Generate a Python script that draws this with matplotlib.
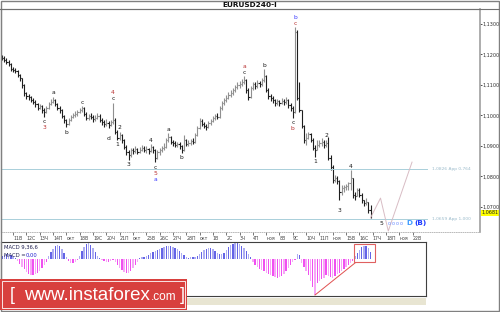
import numpy as np
import matplotlib
matplotlib.use('Agg')
import matplotlib.pyplot as plt
from matplotlib.patches import Rectangle
from matplotlib.lines import Line2D

W, H = 500, 312

# ----------------------------------------------------------------------
# Data : EURUSD 4H bars, prices in pips (1e-4)
first_open = 11195
closes = [11188, 11182, 11175, 11169, 11152, 11149, 11146, 11133, 11123, 11100,
          11074, 11064, 11061, 11051, 11044, 11038, 11024, 11031, 11018, 11011,
          11024, 11038, 11044, 11051, 11038, 11024, 11018, 10998, 10985, 10972,
          10985, 10995, 11001, 11005, 11011, 11018, 11024, 11005, 10992, 10998,
          10995, 10988, 10992, 10998, 10985, 10979, 10972, 10975, 10969, 10979,
          10985, 10946, 10926, 10936, 10920, 10897, 10880, 10870, 10887, 10883,
          10890, 10880, 10887, 10893, 10887, 10890, 10883, 10897, 10887, 10861,
          10880, 10887, 10893, 10897, 10920, 10929, 10913, 10910, 10903, 10906,
          10900, 10887, 10920, 10906, 10910, 10916, 10913, 10936, 10959, 10982,
          10972, 10966, 10962, 10975, 10982, 10992, 10998, 10995, 11024, 11041,
          11051, 11057, 11067, 11074, 11084, 11093, 11100, 11103, 11110, 11116,
          11084, 11061, 11090, 11103, 11097, 11106, 11103, 11116, 11129, 11084,
          11064, 11057, 11051, 11041, 11047, 11041, 11047, 11044, 11051, 11034,
          11024, 11011, 11274, 11057, 11018, 10966, 10920, 10926, 10939, 10920,
          10893, 10887, 10903, 10910, 10913, 10903, 10910, 10861, 10831, 10788,
          10795, 10785, 10749, 10762, 10765, 10769, 10778, 10795, 10739, 10736,
          10756, 10739, 10723, 10713, 10716, 10690, 10681]
highs = [11198, 11195, 11188, 11182, 11172, 11159, 11156, 11149, 11136, 11123,
         11103, 11077, 11070, 11064, 11057, 11051, 11041, 11038, 11034, 11024,
         11031, 11044, 11054, 11061, 11054, 11041, 11031, 11021, 11001, 10988,
         10992, 11001, 11008, 11015, 11018, 11024, 11031, 11028, 11011, 11005,
         11008, 11001, 11001, 11008, 11005, 10992, 10985, 10988, 10982, 10985,
         11041, 10992, 10952, 10946, 10939, 10923, 10903, 10887, 10893, 10893,
         10900, 10893, 10897, 10903, 10900, 10900, 10893, 10906, 10900, 10890,
         10887, 10893, 10900, 10910, 10926, 10942, 10933, 10920, 10916, 10913,
         10913, 10903, 10936, 10923, 10920, 10923, 10926, 10942, 10966, 10992,
         10988, 10979, 10972, 10982, 10988, 10998, 11005, 11008, 11031, 11047,
         11057, 11067, 11077, 11084, 11090, 11100, 11110, 11113, 11120, 11129,
         11120, 11090, 11097, 11110, 11110, 11116, 11113, 11123, 11152, 11133,
         11090, 11070, 11064, 11054, 11054, 11051, 11057, 11054, 11061, 11054,
         11041, 11031, 11290, 11280, 11110, 11018, 10969, 10942, 10946, 10942,
         10926, 10903, 10920, 10920, 10926, 10920, 10920, 10929, 10870, 10838,
         10805, 10801, 10788, 10772, 10772, 10775, 10782, 10821, 10795, 10749,
         10762, 10762, 10746, 10723, 10729, 10716, 10706]
lows = [11182, 11175, 11169, 11162, 11146, 11143, 11139, 11126, 11113, 11090,
        11064, 11054, 11051, 11044, 11038, 11028, 11018, 11021, 11008, 10995,
        11008, 11021, 11034, 11041, 11031, 11018, 11008, 10992, 10975, 10962,
        10969, 10982, 10992, 10995, 10998, 11008, 11011, 10998, 10985, 10985,
        10988, 10979, 10982, 10988, 10979, 10969, 10962, 10966, 10959, 10966,
        10972, 10939, 10920, 10920, 10910, 10890, 10870, 10854, 10864, 10874,
        10877, 10874, 10877, 10883, 10880, 10877, 10874, 10880, 10877, 10847,
        10857, 10870, 10880, 10887, 10893, 10913, 10906, 10900, 10897, 10897,
        10890, 10877, 10883, 10900, 10900, 10903, 10906, 10910, 10933, 10956,
        10966, 10959, 10952, 10959, 10969, 10979, 10985, 10988, 10992, 11018,
        11034, 11044, 11054, 11061, 11067, 11077, 11087, 11090, 11097, 11103,
        11074, 11051, 11057, 11084, 11087, 11090, 11093, 11097, 11110, 11077,
        11054, 11047, 11041, 11031, 11034, 11031, 11038, 11034, 11038, 11024,
        11015, 10992, 11008, 11051, 11011, 10959, 10910, 10903, 10923, 10913,
        10887, 10864, 10887, 10897, 10900, 10893, 10897, 10854, 10821, 10778,
        10782, 10775, 10723, 10739, 10749, 10756, 10756, 10756, 10729, 10723,
        10736, 10733, 10713, 10703, 10706, 10680, 10664]

# MACD(9,36,6) histogram, 1e-4 units
macd_hist = [3, 4, 5, 5, 4, 3, 1,
             -2, -5, -8, -10, -13, -15, -16, -16, -15, -14, -12, -9, -6, -3,
             3, 7, 10, 13, 14, 13, 10, 6, 2,
             -2, -4, -4, -3, -1,
             3, 8, 12, 15, 16, 14, 11, 7, 3,
             1, -1, -2, -3, -3, -2, -1,
             -3, -6, -9, -11, -13, -14, -14, -12, -9, -6, -3,
             1, 2, 2, 3,
             4, 6, 7, 8, 9, 10, 11, 12, 13, 13, 13, 12, 11, 10, 8, 6, 4, 2,
             1, 2, 2, 2, 3,
             5, 7, 9, 10, 11, 11, 10, 8, 6, 5, 5,
             6, 9, 12, 14, 15, 16, 16, 15, 13, 11, 8, 5, 2,
             -3, -6, -8, -10, -11, -12, -14, -15, -16, -17, -18, -19, -18, -17,
             -15, -12, -9, -6, -3, -1,
             5, 4,
             -4, -8, -12, -16, -22, -28, -36, -24, -22, -20, -19, -16, -17, -18,
             -19, -17, -15, -14, -12, -10, -8, -6, -4, -2,
             3, 6, 9, 12, 13, 13, 11, 7]

day_labels = ['11В', '12С', '13Ч', '14П', 'окт', '18В', '19С', '20Ч', '21П', 'окт',
              '25В', '26С', '27Ч', '28П', 'окт', '1В', '2С', '3Ч', '4П', 'ноя',
              '8В', '9С', '10Ч', '11П', 'ноя', '15В', '16С', '17Ч', '18П', 'ноя', '22В']
bars_per_day = 6
first_day_bar = 5

levels = [1.0826, 1.0659]
level_tags = ['1,0826 App 0,764', '1,0659 App 1,000']

forecast_bar = [166, 170.5, 174, 184.7]
forecast_px = [1.0664, 1.0729, 1.0621, 1.0847]

# trend line on the MACD histogram (bar indices)
macd_trend = [141, 159]
macd_trend_end = -4

K, R, B = '#1a1a1a', '#b83030', '#3a3aff'
# (bar, side, [(text, colour), ...]) stacked away from the bar
waves = [(19, 'below', [('c', K), ('3', R)]),
         (23, 'above', [('a', K)]),
         (29, 'below', [('b', K)]),
         (36, 'above', [('c', K)]),
         (50, 'above', [('c', K), ('4', R)]),
         (48, 'below', [('', K), ('d', K)]),
         (52, 'below', [('1', K)]),
         (53, 'above', [('2', K)]),
         (57, 'below', [('3', K)]),
         (67, 'above', [('4', K)]),
         (69, 'below', [('c', K), ('5', R), ('a', B)]),
         (75, 'above', [('a', K)]),
         (81, 'below', [('b', K)]),
         (109, 'above', [('c', K), ('a', R)]),
         (118, 'above', [('b', K)]),
         (131, 'below', [('c', K), ('b', R)]),
         (132, 'above', [('c', R), ('b', B)]),
         (141, 'below', [('1', K)]),
         (146, 'above', [('2', K)]),
         (152, 'below', [('', K), ('3', K)]),
         (157, 'above', [('4', K)])]

# labels of the projected count, under the lower level
proj_bar = [170.7, 174.6, 176.4, 178.2, 180.0, 183.3, 188.6]
proj_txt = ['5', 'o', 'o', 'o', 'o', 'D', '(B)']

# ----------------------------------------------------------------------
def fx(x):
    return x / W

def fy(y):
    return 1 - y / H

PX_BAR = 2.22   # pixels per bar

cl = np.array(closes) / 1e4
hi = np.array(highs) / 1e4
lo = np.array(lows) / 1e4
op = np.r_[first_open / 1e4, cl[:-1]]
hi = np.maximum(hi, np.maximum(op, cl))
lo = np.minimum(lo, np.minimum(op, cl))
n = len(cl)
idx = np.arange(n)

fig = plt.figure(figsize=(W / 100, H / 100), dpi=100)
fig.patch.set_facecolor('white')

# ---------------------------------------------------------------- main
ax = fig.add_axes([fx(1), fy(232), 479 / W, 223 / H])
ax.set_xlim(-0.45, -0.45 + 479 / PX_BAR)
ax.set_ylim(1.061776, 1.13492)

cols = np.where(cl >= op, '#909090', '#1e1e1e')
ax.vlines(idx, lo, hi, colors=cols, lw=0.8)
ax.hlines(op, idx - 0.5, idx, colors=cols, lw=0.8)
ax.hlines(cl, idx, idx + 0.5, colors=cols, lw=0.8)

# fibo levels
for lv, tag in zip(levels, level_tags):
    ax.plot([-0.45, 191.5], [lv, lv], color='#a9cfda', lw=0.7)
    ax.text(193.5, lv, tag, fontsize=3.2, color='#9cbccc', va='center', ha='left')

# projection
ax.plot(forecast_bar, forecast_px, color='#d8bcc4', lw=0.7)

# wave labels
for b, side, stack in waves:
    for s, (t, c) in enumerate(stack):
        if not t:
            continue
        if side == 'above':
            ax.annotate(t, (b, hi[b]), xytext=(0, 4 + 6 * s), textcoords='offset pixels',
                        ha='center', va='center', fontsize=4.3, color=c)
        else:
            ax.annotate(t, (b, lo[b]), xytext=(0, -5 - 6 * s), textcoords='offset pixels',
                        ha='center', va='center', fontsize=4.3, color=c)

for b, t in zip(proj_bar, proj_txt):
    if t == 'o':
        ax.annotate(t, (b, levels[1]), xytext=(0, -4), textcoords='offset pixels',
                    ha='center', va='center', fontsize=3.6, color='#6f8fff')
    elif t == '5':
        ax.annotate(t, (b, levels[1]), xytext=(0, -4), textcoords='offset pixels',
                    ha='center', va='center', fontsize=4.3, color=K)
    else:
        ax.annotate(t, (b, levels[1]), xytext=(0, -4), textcoords='offset pixels',
                    ha='center', va='center', fontsize=5.2, fontweight='bold',
                    color='#3f9cff' if t == 'D' else '#1f3cff')

# axes look
ax.yaxis.tick_right()
yt = np.arange(1.07, 1.1301, 0.01)
ax.set_yticks(yt)
ax.set_yticklabels(['{:.4f}'.format(v).replace('.', ',') for v in yt])
ax.tick_params(axis='y', length=1.5, width=0.6, pad=0.3, labelsize=3.5,
               colors='#303030')
ax.set_xticks(first_day_bar + bars_per_day * np.arange(len(day_labels)))
ax.set_xticklabels(day_labels)
ax.tick_params(axis='x', length=2, width=0.5, pad=1.2, labelsize=3.3,
               colors='#404040', direction='out')
for lbl in ax.get_xticklabels():
    lbl.set_ha('left')

for side in ['top', 'left']:
    ax.spines[side].set_color('#808080')
    ax.spines[side].set_linewidth(0.8)
ax.spines['right'].set_color('#a0a0a0')
ax.spines['right'].set_linewidth(1.2)
ax.spines['bottom'].set_color('#b0b0b0')
ax.spines['bottom'].set_linestyle(':')
ax.spines['bottom'].set_linewidth(0.6)

# current price tag
ax.text(1.003, cl[-1], '{:.4f}'.format(cl[-1]).replace('.', ','),
        transform=ax.get_yaxis_transform(), fontsize=3.5, va='center', ha='left',
        color='#202020', bbox=dict(boxstyle='square,pad=0.12', fc='#ffff00', ec='none'))

# ---------------------------------------------------------------- MACD
fig.patches.append(Rectangle((fx(1), fy(305)), (426 - 1) / W, 7 / H,
                             transform=fig.transFigure, fc='#e8e5d2', ec='none'))
mx = fig.add_axes([fx(1), fy(296), 425 / W, 54 / H])
mx.set_xlim(-0.45, -0.45 + 425 / PX_BAR)
mx.set_ylim(-0.0037, 0.0017)
hv = np.array(macd_hist) * 1e-4
hcol = []
for i, v in enumerate(hv):
    if v >= 0:
        hcol.append('#6464e6' if i % 2 == 0 else '#aeaef2')
    else:
        hcol.append('#f050f0' if i % 2 == 0 else '#f6a8f6')
mx.bar(idx, hv, width=0.6, color=hcol, linewidth=0)
mx.set_xticks([])
mx.set_yticks([])
for s in mx.spines.values():
    s.set_color('#404040')
    s.set_linewidth(0.8)

t0, t1 = macd_trend
mx.plot([t0, t1], [hv[t0], macd_trend_end * 1e-4], color='#e05050', lw=0.7)
pos = hv[t1:]
mx.add_patch(Rectangle((t1 - 0.4, -3e-4), (n - 1) - t1 + 2.2, pos.max() + 5e-4,
                       fill=False, ec='#e06060', lw=0.8))

mx.text(0.006, 0.94, 'MACD 9,36,6', transform=mx.transAxes, fontsize=3.8,
        color='#202050', va='top', ha='left')
mx.text(0.006, 0.80, 'MACD = ', transform=mx.transAxes, fontsize=3.8,
        color='#202050', va='top', ha='left')
mx.text(0.058, 0.80, '0,00', transform=mx.transAxes, fontsize=3.8,
        color='#2020d0', va='top', ha='left')

# ---------------------------------------------------------------- frame, title, logo
fig.text(0.5, fy(4.6), 'EURUSD240-I', fontsize=5.3, fontweight='bold',
         ha='center', va='center', color='#101010')
fig.add_artist(Line2D([0, 1], [fy(8.5), fy(8.5)], color='#707070', lw=0.8))
fig.patches.append(Rectangle((0.001, 0.002), 0.997, 0.996, transform=fig.transFigure,
                             fill=False, ec='#808080', lw=1))

fig.patches.append(Rectangle((0, fy(310)), 187 / W, 31 / H, transform=fig.transFigure,
                             fc='#d8403e', ec='none', zorder=5))
fig.patches.append(Rectangle((fx(2), fy(308)), 183 / W, 27 / H, transform=fig.transFigure,
                             fill=False, ec='white', lw=0.6, zorder=6))
fig.text(fx(10), fy(295), '[', fontsize=13, color='white', family='Liberation Sans',
         ha='left', va='center', zorder=7)
www = fig.text(fx(24), fy(295), 'www.instaforex', fontsize=13.5, color='white',
               family='Liberation Sans', ha='left', va='center', zorder=7)
rend = fig.canvas.get_renderer()
x_end = www.get_window_extent(renderer=rend).x1
com = fig.text(x_end / W + 0.001, fy(296.5), '.com', fontsize=8.5, color='white',
               family='Liberation Sans', ha='left', va='center', zorder=7)
x_end = com.get_window_extent(renderer=rend).x1
fig.text(x_end / W + 0.008, fy(295), ']', fontsize=13, color='white',
         family='Liberation Sans', ha='left', va='center', zorder=7)

fig.savefig('out.png', dpi=100)
